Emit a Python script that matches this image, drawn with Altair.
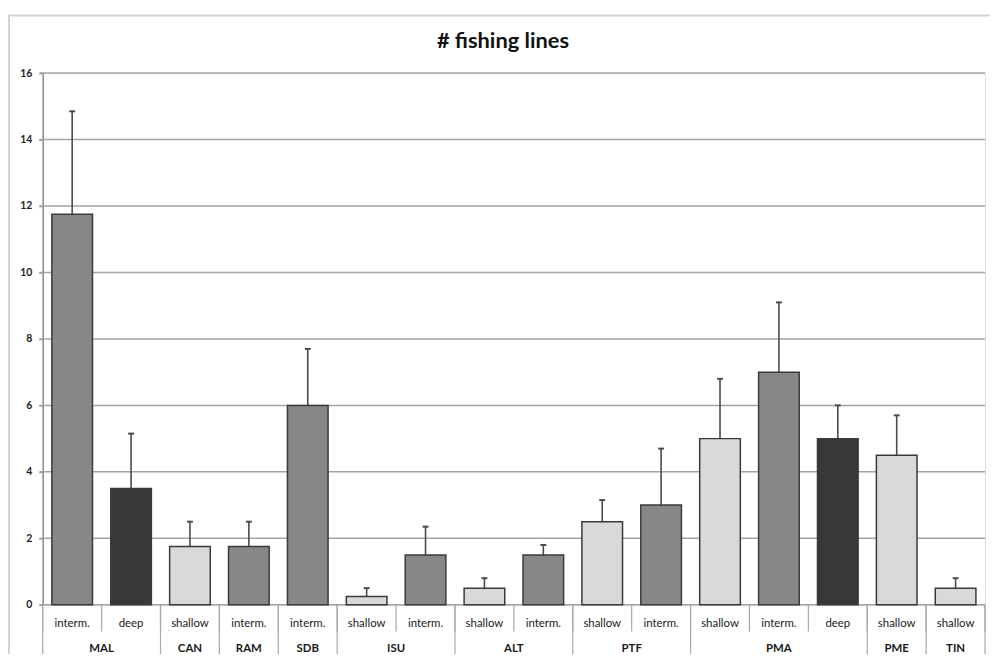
import altair as alt
import pandas as pd

sites = ["MAL", "MAL", "CAN", "RAM", "SDB", "ISU", "ISU", "ALT", "ALT",
         "PTF", "PTF", "PMA", "PMA", "PMA", "PME", "TIN"]
depths = ["interm.", "deep", "shallow", "interm.", "interm.", "shallow", "interm.",
          "shallow", "interm.", "shallow", "interm.", "shallow", "interm.", "deep",
          "shallow", "shallow"]
means = [11.75, 3.5, 1.75, 1.75, 6.0, 0.25, 1.5, 0.5, 1.5, 2.5, 3.0, 5.0, 7.0, 5.0, 4.5, 0.5]
uppers = [14.85, 5.15, 2.5, 2.5, 7.7, 0.5, 2.35, 0.8, 1.8, 3.15, 4.7, 6.8, 9.1, 6.0, 5.7, 0.8]
y_ticks = [0, 2, 4, 6, 8, 10, 12, 14, 16]
title_text = "# fishing lines"

depth_order = ["shallow", "interm.", "deep"]
depth_colors = ["#d9d9d9", "#878787", "#383838"]

FONT = "Lato"
W, H = 950, 536

df = pd.DataFrame({"site": sites, "depth": depths, "mean": means, "upper": uppers})
df["idx"] = range(len(df))

# group spans for second-level labels
groups = []
for i, s in enumerate(sites):
    if groups and groups[-1]["site"] == s:
        groups[-1]["end"] = i + 1
    else:
        groups.append({"site": s, "start": i, "end": i + 1})
gdf = pd.DataFrame(groups)
gdf["mid"] = (gdf["start"] + gdf["end"]) / 2

inner_bounds = pd.DataFrame({"b": list(range(len(sites) + 1))})
group_bounds = pd.DataFrame({"b": [0] + list(gdf["end"])})

xs = alt.Scale(domain=[0, len(sites)], nice=False, zero=False)
ys = alt.Scale(domain=[0, 16], nice=False)

base = alt.Chart(df).transform_calculate(
    x0="datum.idx + 0.155", x1="datum.idx + 0.845", xm="datum.idx + 0.5",
    c0="datum.idx + 0.45", c1="datum.idx + 0.55",
)

grid = alt.Chart(pd.DataFrame({"v": y_ticks})).mark_rule(
    color="#a3a3a3", strokeWidth=1.5
).encode(
    y=alt.Y("v:Q", scale=ys, axis=alt.Axis(
        values=y_ticks, title=None, grid=False, domain=True, domainColor="#8c8c8c",
        domainWidth=1.5, tickColor="#8c8c8c", tickSize=4, tickWidth=1.5,
        labelFont=FONT, labelFontSize=10.5, labelFontWeight="bold", labelColor="#222222",
        labelPadding=7)),
    x=alt.value(-3), x2=alt.value(W),
)

errs = base.mark_rule(color="#4a4a4a", strokeWidth=1.6).encode(
    x=alt.X("xm:Q", scale=xs, axis=None),
    y=alt.Y("mean:Q", scale=ys),
    y2="upper:Q",
)
caps = base.mark_rule(color="#4a4a4a", strokeWidth=2).encode(
    x=alt.X("c0:Q", scale=xs, axis=None),
    x2="c1:Q",
    y=alt.Y("upper:Q", scale=ys),
)
bars = base.mark_bar(stroke="#3a3a3a", strokeWidth=1.5).encode(
    x=alt.X("x0:Q", scale=xs, axis=None),
    x2="x1:Q",
    y=alt.Y("mean:Q", scale=ys),
    y2=alt.datum(0),
    color=alt.Color("depth:N", scale=alt.Scale(domain=depth_order, range=depth_colors),
                    legend=None),
)

inner_lines = alt.Chart(inner_bounds).mark_rule(color="#a8a8a8", strokeWidth=1.2).encode(
    x=alt.X("b:Q", scale=xs, axis=None),
    y=alt.value(H), y2=alt.value(H + 27),
)
group_lines = alt.Chart(group_bounds).mark_rule(color="#a8a8a8", strokeWidth=1.2).encode(
    x=alt.X("b:Q", scale=xs, axis=None),
    y=alt.value(H), y2=alt.value(H + 60),
)
depth_labels = base.mark_text(font=FONT, fontSize=11.5, fontWeight="normal",
                              color="#1a1a1a", baseline="middle").encode(
    x=alt.X("xm:Q", scale=xs, axis=None),
    y=alt.value(H + 19),
    text="depth:N",
)
site_labels = alt.Chart(gdf).mark_text(font=FONT, fontSize=11.5, fontWeight="bold",
                                       color="#1a1a1a", baseline="middle").encode(
    x=alt.X("mid:Q", scale=xs, axis=None),
    y=alt.value(H + 45),
    text="site:N",
)
title = alt.Chart(pd.DataFrame({"t": [title_text]})).mark_text(
    font=FONT, fontSize=22, fontWeight="bold", color="#111111", baseline="middle"
).encode(x=alt.value(464), y=alt.value(-32), text="t:N")

frame_src = pd.DataFrame({"t": [title_text]})
frame_top = alt.Chart(frame_src).mark_rule(color="#d4d4d4", strokeWidth=2).encode(
    x=alt.value(-35), x2=alt.value(W + 60), y=alt.value(-58))
frame_left = alt.Chart(frame_src).mark_rule(color="#d4d4d4", strokeWidth=2).encode(
    x=alt.value(-34), y=alt.value(-58), y2=alt.value(H + 80))

chart = alt.layer(
    frame_top, frame_left, grid, errs, caps, bars, inner_lines, group_lines,
    depth_labels, site_labels, title
).properties(
    width=W, height=H,
    autosize=alt.AutoSizeParams(type="none"),
    padding={"left": 35, "top": 63, "right": 5, "bottom": 47},
).configure_view(stroke=None).configure(background="white")

chart.save("out.html", embed_options={"renderer": "svg", "actions": False})
